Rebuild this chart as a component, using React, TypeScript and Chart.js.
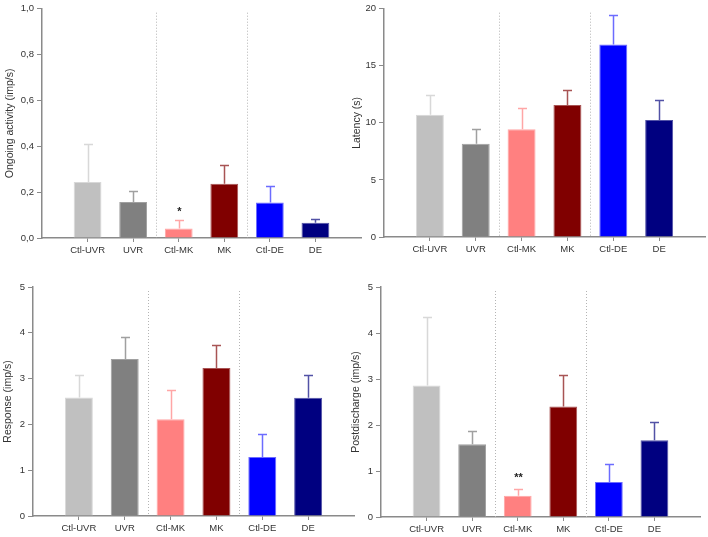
import React, { useEffect, useRef } from 'react';
import { Chart, registerables } from 'chart.js';

Chart.register(...registerables);

// ---------- data ----------
const categories = ['Ctl-UVR', 'UVR', 'Ctl-MK', 'MK', 'Ctl-DE', 'DE'];
const positions = [1, 2, 3, 4, 5, 6];
const separators = [2.5, 4.5];

const ongoingMean = [0.244, 0.157, 0.041, 0.237, 0.155, 0.067];
const ongoingSem = [0.167, 0.048, 0.036, 0.080, 0.071, 0.017];
const ongoingSig = ['', '', '*', '', '', ''];
const ongoingTicks = [0, 0.2, 0.4, 0.6, 0.8, 1.0];

const latencyMean = [10.72, 8.17, 9.44, 11.56, 16.87, 10.26];
const latencySem = [1.74, 1.33, 1.86, 1.36, 2.61, 1.74];
const latencySig = ['', '', '', '', '', ''];
const latencyTicks = [0, 5, 10, 15, 20];

const responseMean = [2.59, 3.43, 2.11, 3.23, 1.29, 2.58];
const responseSem = [0.48, 0.48, 0.64, 0.51, 0.50, 0.50];
const responseSig = ['', '', '', '', '', ''];
const responseTicks = [0, 1, 2, 3, 4, 5];

const postMean = [2.86, 1.58, 0.46, 2.40, 0.76, 1.67];
const postSem = [1.49, 0.30, 0.15, 0.68, 0.39, 0.40];
const postSig = ['', '', '**', '', '', ''];
const postTicks = [0, 1, 2, 3, 4, 5];

// ---------- styles ----------
const barColors = ['#c0c0c0', '#808080', '#ff8080', '#800000', '#0000ff', '#000080'];
const edgeColors = ['#d8d8d8', '#a0a0a0', '#ffa6a6', '#a85454', '#6c6cff', '#5252a6'];
const FONT = "'Liberation Sans', Arial, sans-serif";
const AXIS = '#8a8a8a';
const TEXT = '#333333';

type PanelCfg = {
  left: number; top: number; width: number; height: number;
  area: { left: number; top: number; right: number; bottom: number };
  title: string; titlePad: number; sigGap: number;
  mean: number[]; sem: number[]; sig: string[]; ticks: number[];
  decimals: number;
};

const panels: PanelCfg[] = [
  {
    left: 0, top: 0, width: 366, height: 268,
    area: { left: 42, top: 8, right: 361, bottom: 238 },
    title: 'Ongoing activity (imp/s)', titlePad: 4, sigGap: 6,
    mean: ongoingMean, sem: ongoingSem, sig: ongoingSig, ticks: ongoingTicks, decimals: 1,
  },
  {
    left: 340, top: 0, width: 368, height: 268,
    area: { left: 44, top: 7, right: 365, bottom: 237 },
    title: 'Latency (s)', titlePad: 10.5, sigGap: 6,
    mean: latencyMean, sem: latencySem, sig: latencySig, ticks: latencyTicks, decimals: 0,
  },
  {
    left: 0, top: 268, width: 366, height: 269,
    area: { left: 33, top: 19, right: 354, bottom: 248 },
    title: 'Response (imp/s)', titlePad: 2, sigGap: 6,
    mean: responseMean, sem: responseSem, sig: responseSig, ticks: responseTicks, decimals: 0,
  },
  {
    left: 340, top: 268, width: 368, height: 269,
    area: { left: 41, top: 19, right: 360, bottom: 249 },
    title: 'Postdischarge (imp/s)', titlePad: 9.5, sigGap: 9,
    mean: postMean, sem: postSem, sig: postSig, ticks: postTicks, decimals: 0,
  },
];

const extrasPlugin = {
  id: 'extras',
  beforeDatasetsDraw(chart: any) {
    const { ctx, chartArea } = chart;
    const xs = chart.scales.x;
    ctx.save();
    ctx.strokeStyle = '#b4b4b4';
    ctx.lineWidth = 1;
    ctx.setLineDash([1, 2]);
    separators.forEach((s) => {
      const x = Math.round(xs.getPixelForValue(s)) + 0.5;
      ctx.beginPath();
      ctx.moveTo(x, chartArea.top + 4);
      ctx.lineTo(x, chartArea.bottom);
      ctx.stroke();
    });
    ctx.restore();
  },
  afterDatasetsDraw(chart: any, _args: any, opts: any) {
    const { ctx } = chart;
    const xs = chart.scales.x;
    const ys = chart.scales.y;
    const cfg: PanelCfg = opts.cfg;
    ctx.save();
    cfg.mean.forEach((m, i) => {
      const x = Math.round(xs.getPixelForValue(positions[i])) + 0.5;
      const y0 = ys.getPixelForValue(m);
      const y1 = Math.round(ys.getPixelForValue(m + cfg.sem[i])) + 0.5;
      ctx.strokeStyle = edgeColors[i];
      ctx.lineWidth = 1.5;
      ctx.beginPath();
      ctx.moveTo(x, y0);
      ctx.lineTo(x, y1);
      ctx.moveTo(x - 4.5, y1);
      ctx.lineTo(x + 4.5, y1);
      ctx.stroke();
      if (cfg.sig[i]) {
        ctx.fillStyle = '#222';
        ctx.font = `bold 11px ${FONT}`;
        ctx.textAlign = 'center';
        ctx.textBaseline = 'alphabetic';
        ctx.fillText(cfg.sig[i], x, y1 - cfg.sigGap);
      }
    });
    ctx.restore();
  },
};

function Panel({ cfg }: { cfg: PanelCfg }) {
  const ref = useRef<HTMLCanvasElement | null>(null);
  useEffect(() => {
    if (!ref.current) return;
    const { area, width, height } = cfg;
    const chart = new Chart(ref.current, {
      type: 'bar',
      data: {
        datasets: [
          {
            data: positions.map((p, i) => ({ x: p, y: cfg.mean[i] })),
            backgroundColor: barColors,
            borderColor: edgeColors,
            borderWidth: 1,
            borderSkipped: 'bottom',
            barPercentage: 0.61,
            categoryPercentage: 1,
          },
        ],
      },
      options: {
        animation: false,
        responsive: false,
        devicePixelRatio: 1,
        layout: { padding: { left: 0, top: area.top, right: width - area.right, bottom: 0 } },
        plugins: {
          legend: { display: false },
          tooltip: { enabled: false },
          extras: { cfg },
        } as any,
        scales: {
          x: {
            type: 'linear',
            min: 0,
            max: 7,
            offset: false,
            afterFit: (s: any) => { s.height = height - area.bottom; },
            afterBuildTicks: (s: any) => { s.ticks = positions.map((v) => ({ value: v })); },
            grid: { display: true, offset: false, drawOnChartArea: false, drawTicks: true, tickLength: 4, color: AXIS, lineWidth: 1 },
            border: { display: true, color: AXIS, width: 1.5 },
            ticks: {
              autoSkip: false,
              maxRotation: 0,
              padding: 3,
              color: TEXT,
              font: { family: FONT, size: 9.5 },
              callback: (v: any) => categories[positions.indexOf(Number(v))] ?? '',
            },
          },
          y: {
            type: 'linear',
            min: cfg.ticks[0],
            max: cfg.ticks[cfg.ticks.length - 1],
            afterFit: (s: any) => { s.width = area.left; },
            afterBuildTicks: (s: any) => { s.ticks = cfg.ticks.map((v) => ({ value: v })); },
            grid: { display: true, drawOnChartArea: false, drawTicks: true, tickLength: 5, color: AXIS, lineWidth: 1 },
            border: { display: true, color: AXIS, width: 1.5 },
            ticks: {
              padding: 3,
              color: TEXT,
              font: { family: FONT, size: 9.5 },
              callback: (v: any) => Number(v).toFixed(cfg.decimals).replace('.', ','),
            },
            title: {
              display: true,
              text: cfg.title,
              color: TEXT,
              font: { family: FONT, size: 10.5 },
              padding: { top: cfg.titlePad, bottom: 0 },
            },
          },
        },
      } as any,
      plugins: [extrasPlugin],
    });
    return () => chart.destroy();
  }, [cfg]);
  return (
    <div style={{ position: 'absolute', left: cfg.left, top: cfg.top, width: cfg.width, height: cfg.height }}>
      <canvas ref={ref} width={cfg.width} height={cfg.height} style={{ width: cfg.width, height: cfg.height, display: 'block' }} />
    </div>
  );
}

export default function App() {
  return (
    <div style={{ position: 'absolute', left: 0, top: 0, width: 708, height: 537, background: '#fff' }}>
      {panels.map((p, i) => (
        <Panel key={i} cfg={p} />
      ))}
    </div>
  );
}
